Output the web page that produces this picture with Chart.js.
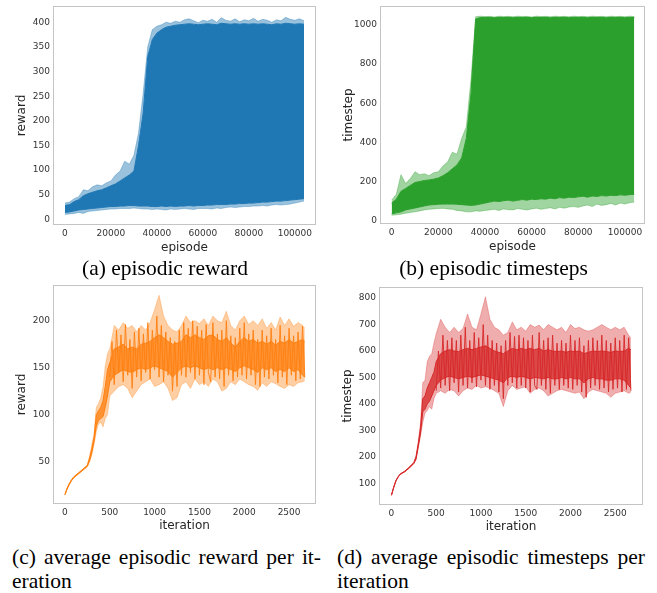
<!DOCTYPE html>
<html lang="en">
<head>
    <meta charset="UTF-8">
    <title>Training curves</title>
    <script src="https://cdn.jsdelivr.net/npm/chart.js"></script>
    <style>
        body { margin: 0; background: #fff; }
        #fig { position: relative; width: 657px; height: 593px; }
        canvas { position: absolute; }
        .cap { position: absolute; font-family: "Liberation Serif", "Times New Roman", serif; font-size: 21.5px; line-height: 24px; color: #000; white-space: nowrap; }
        .just { text-align: justify; text-align-last: justify; white-space: normal; }
    </style>
</head>
<body>
<div id="fig">
    <canvas id="chartA" width="330" height="258" style="left:0;top:0"></canvas>
    <canvas id="chartB" width="327" height="258" style="left:330px;top:0"></canvas>
    <canvas id="chartC" width="330" height="258" style="left:0;top:280px"></canvas>
    <canvas id="chartD" width="327" height="258" style="left:330px;top:280px"></canvas>

    <div class="cap" style="left:0;top:256px;width:330px;text-align:center">(a) episodic reward</div>
    <div class="cap" style="left:330px;top:256px;width:327px;text-align:center">(b) episodic timesteps</div>
    <div class="cap just" style="left:12px;top:545px;width:309px">(c) average episodic reward per it-</div>
    <div class="cap" style="left:12px;top:569px">eration</div>
    <div class="cap just" style="left:337px;top:545px;width:308px">(d) average episodic timesteps per</div>
    <div class="cap" style="left:337px;top:569px">iteration</div>
</div>

<script>
    // episodes (x) for panels a and b
    const episodes = [0, 2000, 4000, 6000, 8000, 10000, 12000, 14000, 16000, 18000, 20000, 22000, 24000, 26000,
        28000, 30000, 32000, 34000, 36000, 38000, 40000, 42000, 44000, 46000, 48000, 50000, 52000, 54000,
        56000, 58000, 60000, 62000, 64000, 66000, 68000, 70000, 72000, 74000, 76000, 78000, 80000, 82000,
        84000, 86000, 88000, 90000, 92000, 94000, 96000, 98000, 100000, 102000, 104000];

    // (a) episodic reward: spike max, dense top, dense bottom, spike min
    const rewardHigh = [33, 35, 42, 46, 60, 58, 66, 70, 68, 74, 78, 90, 98, 118, 112, 130, 175, 255, 350, 385, 392,
        395, 400, 398, 402, 400, 405, 407, 403, 399, 404, 402, 406, 400, 409, 404, 402, 407, 401, 405, 403,
        408, 402, 406, 404, 400, 405, 403, 410, 406, 404, 407, 403];
    const rewardTop = [28, 30, 36, 40, 48, 52, 55, 58, 60, 64, 68, 72, 78, 84, 90, 98, 150, 215, 330, 365, 378,
        385, 390, 392, 394, 395, 396, 397, 396, 395, 396, 397, 396, 395, 398, 397, 396, 397, 396, 397, 396,
        397, 396, 397, 396, 395, 397, 396, 398, 397, 396, 397, 396];
    const rewardBottom = [14, 15, 17, 19, 20, 21, 22, 23, 24, 25, 26, 26, 27, 27, 28, 28, 27, 27, 27, 26, 26,
        27, 26, 27, 26, 27, 27, 28, 27, 28, 28, 29, 29, 30, 30, 30, 31, 31, 32, 32, 33,
        33, 34, 35, 35, 36, 37, 37, 38, 39, 40, 41, 42];
    const rewardLow = [10, 11, 12, 14, 12, 16, 17, 18, 19, 20, 21, 21, 22, 22, 22, 23, 22, 21, 21, 20, 21,
        20, 19, 21, 20, 21, 22, 21, 20, 22, 22, 22, 21, 23, 22, 24, 25, 24, 25, 26, 26,
        27, 27, 28, 27, 29, 30, 29, 30, 31, 33, 35, 37];

    // (b) episodic timesteps
    const stepHigh = [105, 135, 235, 190, 215, 250, 235, 240, 230, 245, 250, 280, 300, 350, 340, 420, 480, 720, 1042,
        1045, 1043, 1044, 1041, 1045, 1043, 1044, 1042, 1045, 1043, 1044, 1041, 1045, 1043, 1044, 1042, 1045,
        1043, 1044, 1042, 1045, 1043, 1044, 1042, 1045, 1043, 1044, 1042, 1045, 1043, 1044, 1042, 1045, 1043];
    const stepTop = [90, 110, 150, 165, 180, 195, 200, 205, 208, 212, 218, 230, 245, 265, 285, 320, 420, 650, 1030,
        1038, 1038, 1039, 1037, 1039, 1038, 1039, 1037, 1039, 1038, 1039, 1037, 1039, 1038, 1039, 1037, 1039,
        1038, 1039, 1037, 1039, 1038, 1039, 1037, 1039, 1038, 1039, 1037, 1039, 1038, 1039, 1037, 1039, 1038];
    const stepBottom = [35, 40, 45, 55, 60, 65, 70, 75, 80, 82, 84, 85, 85, 85, 84, 82, 80, 78, 80, 85, 90,
        95, 100, 98, 102, 105, 100, 104, 108, 105, 110, 108, 112, 110, 115, 112, 118, 115, 120, 118, 122,
        125, 120, 126, 124, 128, 126, 130, 128, 132, 130, 133, 135];
    const stepLow = [28, 30, 33, 38, 42, 45, 50, 55, 58, 60, 62, 63, 60, 58, 52, 50, 45, 45, 50, 48, 52,
        55, 58, 52, 60, 56, 55, 62, 58, 55, 60, 64, 58, 62, 66, 60, 68, 64, 70, 72, 68,
        75, 80, 72, 85, 78, 82, 88, 80, 90, 85, 92, 95];

    // iterations (x) for panels c and d
    const iterations = [0, 25, 50, 75, 100, 150, 200, 250, 275, 300, 325, 350, 375, 400, 425, 450, 475, 500,
        550, 600, 650, 700, 750, 800, 850, 900, 950, 1000, 1050, 1100, 1150, 1200, 1250, 1300, 1350, 1400,
        1450, 1500, 1550, 1600, 1650, 1700, 1750, 1800, 1850, 1900, 1950, 2000, 2050, 2100, 2150, 2200,
        2250, 2300, 2350, 2400, 2450, 2500, 2550, 2600, 2650, 2675];

    // (c) average episodic reward per iteration
    const avgRewardHigh = [15, 22, 27, 31, 34, 38, 42, 47, 56, 68, 80, 108, 112, 118, 130, 152, 165, 170,
        195, 190, 198, 192, 195, 188, 195, 190, 198, 212, 227, 205, 195, 190, 188, 195, 205, 198,
        200, 197, 202, 195, 205, 200, 198, 210, 195, 190, 200, 205, 196, 200, 195, 202,
        192, 198, 190, 204, 195, 202, 194, 198, 195, 192];
    const avgRewardTop = [15, 22, 27, 31, 34, 38, 42, 46, 54, 64, 76, 100, 104, 108, 115, 130, 148, 155,
        170, 172, 175, 170, 172, 170, 175, 176, 178, 182, 185, 182, 178, 175, 176, 178, 185, 182,
        185, 182, 180, 184, 185, 180, 178, 182, 176, 172, 178, 182, 178, 180, 176, 178,
        175, 178, 174, 178, 176, 180, 176, 178, 180, 178];
    const avgRewardBottom = [15, 21, 26, 30, 33, 37, 41, 45, 51, 60, 72, 88, 94, 96, 98, 108, 120, 135,
        142, 145, 148, 146, 145, 148, 150, 148, 150, 152, 150, 148, 146, 140, 145, 150, 152, 150,
        152, 150, 148, 150, 148, 150, 148, 150, 148, 146, 150, 152, 150, 148, 145, 150,
        148, 150, 146, 148, 146, 150, 146, 148, 142, 140];
    const avgRewardLow = [15, 21, 26, 30, 33, 37, 41, 45, 50, 57, 68, 82, 90, 92, 87, 96, 100, 120,
        125, 130, 132, 128, 118, 125, 132, 135, 138, 130, 132, 135, 128, 115, 118, 132, 135, 128,
        138, 132, 135, 130, 138, 135, 125, 128, 135, 132, 138, 135, 132, 130, 126, 134,
        130, 135, 133, 130, 128, 132, 130, 134, 135, 136];

    // (d) average episodic timesteps per iteration
    const avgStepHigh = [55, 85, 110, 125, 136, 146, 162, 180, 205, 260, 330, 480, 490, 560, 580, 590, 630, 665,
        720, 690, 670, 690, 670, 685, 740, 690, 680, 740, 805, 720, 690, 680, 660, 670, 710, 680,
        690, 675, 700, 690, 698, 680, 700, 690, 680, 690, 670, 700, 685, 690, 680, 675,
        680, 690, 700, 690, 680, 690, 680, 690, 660, 650];
    const avgStepTop = [55, 85, 110, 125, 136, 146, 161, 178, 200, 250, 310, 420, 430, 460, 480, 500, 520, 560,
        590, 600, 605, 600, 598, 605, 610, 605, 610, 615, 620, 610, 600, 595, 590, 600, 610, 605,
        610, 605, 610, 605, 610, 600, 605, 600, 598, 600, 595, 600, 598, 600, 590, 595,
        600, 598, 600, 598, 595, 600, 598, 600, 610, 605];
    const avgStepBottom = [55, 84, 109, 124, 134, 144, 158, 175, 192, 240, 290, 370, 380, 400, 410, 430, 450, 470,
        490, 500, 505, 500, 495, 500, 505, 500, 505, 510, 505, 500, 495, 490, 480, 500, 505, 500,
        505, 500, 495, 500, 498, 495, 500, 495, 495, 500, 495, 500, 495, 495, 480, 495,
        500, 495, 495, 490, 490, 495, 495, 490, 470, 460];
    const avgStepLow = [55, 84, 109, 124, 134, 144, 158, 174, 190, 235, 280, 330, 365, 375, 390, 380, 420, 440,
        450, 440, 455, 450, 430, 450, 460, 455, 470, 460, 465, 460, 450, 440, 390, 450, 470, 455,
        460, 465, 440, 455, 460, 450, 430, 440, 450, 455, 450, 445, 440, 445, 420, 445,
        455, 450, 445, 440, 425, 440, 445, 450, 440, 445];

    // single noisy per-iteration trace over the plateau (c and d)
    const traceIters = [500, 525, 550, 575, 600, 625, 650, 675, 700, 725, 750, 775, 800, 825, 850, 875,
        900, 925, 950, 975, 1000, 1025, 1050, 1075, 1100, 1125, 1150, 1175, 1200, 1225, 1250, 1275,
        1300, 1325, 1350, 1375, 1400, 1425, 1450, 1475, 1500, 1525, 1550, 1575, 1600, 1625, 1650, 1675,
        1700, 1725, 1750, 1775, 1800, 1825, 1850, 1875, 1900, 1925, 1950, 1975, 2000, 2025, 2050, 2075,
        2100, 2125, 2150, 2175, 2200, 2225, 2250, 2275, 2300, 2325, 2350, 2375, 2400, 2425, 2450, 2475,
        2500, 2525, 2550, 2575, 2600, 2625, 2650, 2675];
    const rewardTrace = [140, 178, 132, 190, 145, 185, 135, 196, 142, 180, 128, 188, 140, 192, 136, 186,
        145, 198, 138, 190, 148, 205, 140, 195, 135, 188, 142, 182, 125, 178, 130, 190,
        142, 198, 140, 192, 145, 200, 138, 194, 142, 190, 132, 196, 145, 135, 198, 140,
        186, 138, 190, 130, 200, 142, 184, 136, 182, 140, 192, 142, 198, 138, 186, 142,
        190, 132, 180, 130, 190, 140, 184, 138, 192, 142, 180, 134, 195, 140, 184, 132,
        192, 142, 184, 136, 188, 138, 194, 140];
    const stepTrace = [450, 600, 460, 660, 470, 640, 450, 650, 480, 640, 445, 660, 470, 690, 460, 640,
        480, 670, 465, 650, 490, 700, 470, 660, 455, 640, 470, 630, 445, 620, 420, 640,
        470, 670, 480, 655, 460, 660, 470, 650, 460, 640, 445, 660, 470, 455, 670, 470,
        640, 455, 650, 440, 660, 470, 630, 455, 640, 470, 630, 460, 660, 455, 640, 470,
        650, 445, 620, 425, 640, 460, 650, 470, 640, 455, 660, 460, 640, 445, 630, 455,
        650, 460, 640, 445, 660, 455, 650, 450];

    const tickFont = { family: 'DejaVu Sans', size: 9 };
    const titleFont = { family: 'DejaVu Sans', size: 12 };
    const textColor = '#333';

    // light grey box round each plot
    const frame = {
        id: 'frame',
        afterDraw(chart) {
            const { ctx, chartArea: a } = chart;
            ctx.save();
            ctx.strokeStyle = '#c4c4c4';
            ctx.lineWidth = 1;
            ctx.strokeRect(a.left + 0.5, a.top + 0.5, a.right - a.left - 1, a.bottom - a.top - 1);
            ctx.restore();
        }
    };

    function toPoints(xs, ys) {
        return xs.map((x, i) => ({ x: x, y: ys[i] }));
    }

    function bandSets(xs, high, top, bottom, low, color, mid, light) {
        return [
            { data: toPoints(xs, high), borderColor: light, borderWidth: 0.8, backgroundColor: light, fill: '+1' },
            { data: toPoints(xs, top), borderColor: color, borderWidth: 1, backgroundColor: mid, fill: '+1' },
            { data: toPoints(xs, bottom), borderColor: color, borderWidth: 1, backgroundColor: light, fill: '+1' },
            { data: toPoints(xs, low), borderColor: light, borderWidth: 0.8, fill: false }
        ];
    }

    function traceSet(xs, ys, color) {
        return { data: toPoints(xs, ys), borderColor: color, borderWidth: 0.9, fill: false };
    }

    function makePanel(id, p) {
        new Chart(document.getElementById(id), {
            type: 'line',
            data: { datasets: p.datasets },
            options: {
                responsive: false,
                animation: false,
                layout: { padding: { left: 0, top: p.top, right: p.right, bottom: 0 } },
                plugins: { legend: { display: false }, tooltip: { enabled: false } },
                elements: { point: { radius: 0 }, line: { tension: 0 } },
                scales: {
                    x: {
                        type: 'linear', min: p.xMin, max: p.xMax,
                        grid: { display: false, drawTicks: false },
                        border: { display: false },
                        ticks: { font: tickFont, color: textColor, padding: 3, maxRotation: 0, autoSkip: false,
                                 callback: v => String(v) },
                        afterBuildTicks: s => { s.ticks = p.xTicks.map(v => ({ value: v })); },
                        afterFit: s => { s.height = p.xBox; s.paddingLeft = 0; s.paddingRight = 0; },
                        title: { display: true, text: p.xTitle, font: titleFont, color: '#262626',
                                 padding: { top: 0, bottom: p.xTitlePad } }
                    },
                    y: {
                        type: 'linear', min: p.yMin, max: p.yMax,
                        grid: { display: false, drawTicks: false },
                        border: { display: false },
                        ticks: { font: tickFont, color: textColor, padding: 3, autoSkip: false,
                                 callback: v => String(v) },
                        afterBuildTicks: s => { s.ticks = p.yTicks.map(v => ({ value: v })); },
                        afterFit: s => { s.width = p.yBox; s.paddingTop = 0; s.paddingBottom = 0; },
                        title: { display: true, text: p.yTitle, font: titleFont, color: '#262626',
                                 padding: { top: p.yTitlePad, bottom: 0 } }
                    }
                }
            },
            plugins: [frame]
        });
    }

    makePanel('chartA', {
        datasets: bandSets(episodes, rewardHigh, rewardTop, rewardBottom, rewardLow,
            '#1f77b4', '#1f77b4', 'rgba(31,119,180,0.45)'),
        top: 6, right: 14, yBox: 53, xBox: 33,
        xMin: -5200, xMax: 109200, yMin: -11.5, yMax: 433,
        xTicks: [0, 20000, 40000, 60000, 80000, 100000],
        yTicks: [0, 50, 100, 150, 200, 250, 300, 350, 400],
        xTitle: 'episode', yTitle: 'reward', xTitlePad: 3, yTitlePad: 14.5
    });

    makePanel('chartB', {
        datasets: bandSets(episodes, stepHigh, stepTop, stepBottom, stepLow,
            '#2ca02c', '#2ca02c', 'rgba(44,160,44,0.45)'),
        top: 6, right: 12, yBox: 50, xBox: 34,
        xMin: -5000, xMax: 108600, yMin: -17, yMax: 1097,
        xTicks: [0, 20000, 40000, 60000, 80000, 100000],
        yTicks: [0, 200, 400, 600, 800, 1000],
        xTitle: 'episode', yTitle: 'timestep', xTitlePad: 3.8, yTitlePad: 11.5
    });

    makePanel('chartC', {
        datasets: [traceSet(traceIters, rewardTrace, '#ff7f0e')].concat(
            bandSets(iterations, avgRewardHigh, avgRewardTop, avgRewardBottom, avgRewardLow,
                '#ff7f0e', 'rgba(255,127,14,0.85)', 'rgba(255,127,14,0.38)')),
        top: 5, right: 14, yBox: 53, xBox: 34,
        xMin: -133, xMax: 2800, yMin: 5, yMax: 238,
        xTicks: [0, 500, 1000, 1500, 2000, 2500],
        yTicks: [50, 100, 150, 200],
        xTitle: 'iteration', yTitle: 'reward', xTitlePad: 4.8, yTitlePad: 14.5
    });

    makePanel('chartD', {
        datasets: [traceSet(traceIters, stepTrace, '#d62728')].concat(
            bandSets(iterations, avgStepHigh, avgStepTop, avgStepBottom, avgStepLow,
                '#d62728', 'rgba(214,39,40,0.85)', 'rgba(214,39,40,0.38)')),
        top: 7, right: 14, yBox: 49, xBox: 33,
        xMin: -139, xMax: 2810, yMin: 18, yMax: 842,
        xTicks: [0, 500, 1000, 1500, 2000, 2500],
        yTicks: [100, 200, 300, 400, 500, 600, 700, 800],
        xTitle: 'iteration', yTitle: 'timestep', xTitlePad: 4.1, yTitlePad: 11
    });
</script>
</body>
</html>
